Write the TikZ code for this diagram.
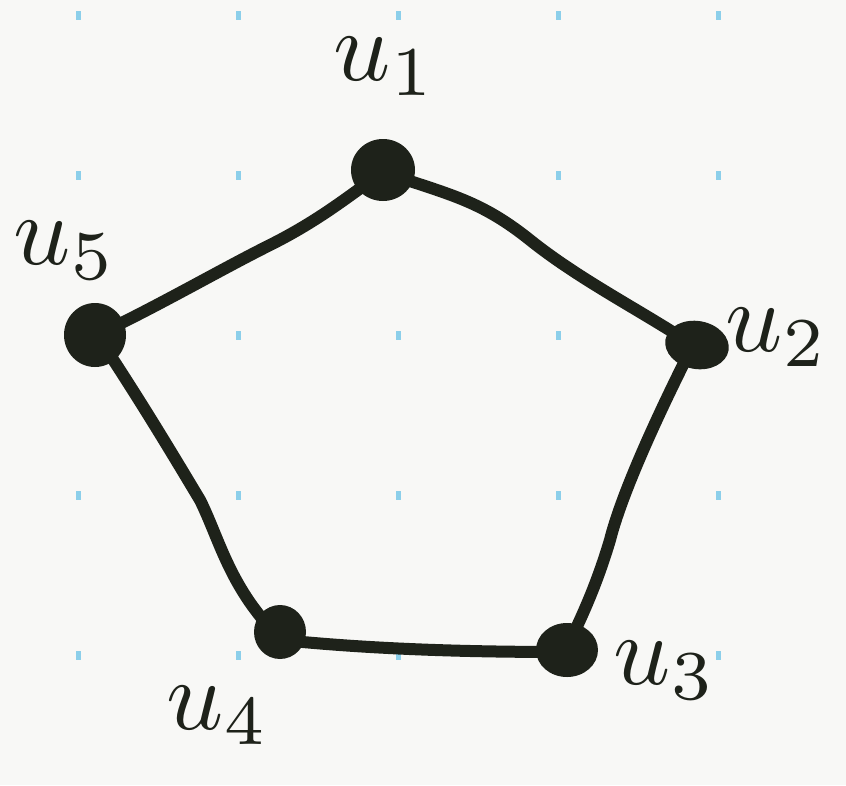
\documentclass[tikz,border=0pt]{standalone}
\usetikzlibrary{shapes.geometric}
\definecolor{ink}{HTML}{1E221A}
\definecolor{paper}{HTML}{F8F8F6}
\definecolor{griddot}{HTML}{8CCFEA}
\newcommand{\biglabel}[1]{\scalebox{10}{$u_{#1}$}}
\begin{document}
\begin{tikzpicture}[x=1pt,y=-1pt,
  vert/.style={ellipse,fill=ink,draw=none,inner sep=0pt},
  edge/.style={draw=ink,line width=12pt,line cap=round,line join=round},
  lbl/.style={text=ink,inner sep=0pt}]
\fill[paper] (0,0) rectangle (846,785);
\useasboundingbox (0,0) rectangle (846,785);
\foreach \gx in {78,238,398,558,718}
  \foreach \gy in {15,175,335,495,655}
    \fill[griddot] (\gx-2.5,\gy-4.5) rectangle (\gx+2.5,\gy+4.5);
% edges
\coordinate (c1) at (383,172);
\coordinate (c2) at (693,345);
\coordinate (c3) at (565,652);
\coordinate (c4) at (282,640);
\coordinate (c5) at (97,335);
\draw[edge] (c1) .. controls (450,195) and (480,200) .. (530,240) .. controls (580,280) and (640,310) .. (c2);
\draw[edge] (c2) .. controls (650,430) and (620,500) .. (610,540) .. controls (595,590) and (580,620) .. (c3);
\draw[edge] (c4) .. controls (380,650) and (480,652) .. (c3);
\draw[edge] (c5) .. controls (140,400) and (170,450) .. (200,500) .. controls (220,540) and (230,590) .. (c4);
\draw[edge] (c5) .. controls (160,305) and (220,270) .. (270,245) .. controls (320,220) and (350,195) .. (c1);
% vertices
\node[vert,minimum width=64pt,minimum height=62pt] (u1) at (383,170) {};
\node[vert,minimum width=64pt,minimum height=48pt,rotate=-10] (u2) at (697,345) {};
\node[vert,minimum width=62pt,minimum height=54pt] (u3) at (567,650) {};
\node[vert,minimum width=52pt,minimum height=54pt] (u4) at (280,632) {};
\node[vert,minimum width=62pt,minimum height=64pt] (u5) at (95,335) {};
% labels
\node[lbl] (l1) at (385,66) {\biglabel{1}};
\node[lbl] (l2) at (777,337) {\biglabel{2}};
\node[lbl] (l3) at (665,670) {\biglabel{3}};
\node[lbl] (l4) at (218,715) {\biglabel{4}};
\node[lbl] (l5) at (65,250) {\biglabel{5}};
\end{tikzpicture}
\end{document}
